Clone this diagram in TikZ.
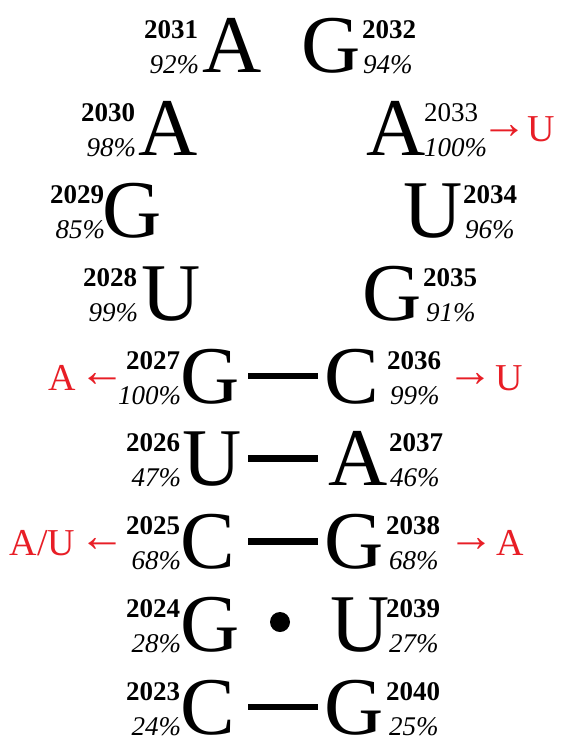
\documentclass[tikz,border=0pt]{standalone}
\usepackage{fontspec}
\setmainfont{Liberation Serif}
\definecolor{mutred}{RGB}{232,30,38}
\tikzset{
  bnode/.style={inner sep=0pt, outer sep=0pt},
  nt/.style={bnode, anchor=base, font=\fontsize{82}{82}\selectfont},
  num/.style={bnode, font=\bfseries\fontsize{27}{27}\selectfont},
  numr/.style={bnode, font=\fontsize{27}{27}\selectfont},
  pct/.style={bnode, font=\itshape\fontsize{27}{27}\selectfont},
  mut/.style={bnode, anchor=base, text=mutred, font=\fontsize{38}{38}\selectfont},
  mutarrow/.style={bnode, anchor=base, text=mutred, font=\fontsize{46}{46}\selectfont},
  pairbar/.style={line width=6.5pt},
}
\begin{document}
\begin{tikzpicture}[x=1pt,y=-1pt]
\fill[white] (0,0) rectangle (562,736);
\useasboundingbox (0,0) rectangle (562,736);
% row 1 (b=72)
\node[nt] (n2031) at (232.5,72) {A};
\node[nt] (n2032) at (331.5,72) {G};
\node[num, anchor=base east] (l2031) at (198,38) {2031};
\node[pct, anchor=base east] (p2031) at (199,73) {92\%};
\node[num, anchor=base west] (l2032) at (362,38) {2032};
\node[pct, anchor=base west] (p2032) at (363,73) {94\%};
% row 2 (b=155)
\node[nt] (n2030) at (168.5,155) {A};
\node[nt] (n2033) at (396.5,155) {A};
\node[num, anchor=base east] (l2030) at (135,121) {2030};
\node[pct, anchor=base east] (p2030) at (136,156) {98\%};
\node[numr, anchor=base west] (l2033) at (424,121) {2033};
\node[pct, anchor=base west] (p2033) at (424,156) {100\%};
\node[mutarrow] (a2033) at (504,138) {→};
\node[mut] (m2033) at (541,141) {U};
% row 3 (b=237.5)
\node[nt] (n2029) at (132,237.5) {G};
\node[nt] (n2034) at (433.5,237.5) {U};
\node[num, anchor=base east] (l2029) at (104,203.5) {2029};
\node[pct, anchor=base east] (p2029) at (105,238.5) {85\%};
\node[num, anchor=base west] (l2034) at (463,203.5) {2034};
\node[pct, anchor=base west] (p2034) at (465,238.5) {96\%};
% row 4 (b=320)
\node[nt] (n2028) at (171,320) {U};
\node[nt] (n2035) at (392,320) {G};
\node[num, anchor=base east] (l2028) at (137,286) {2028};
\node[pct, anchor=base east] (p2028) at (138,321) {99\%};
\node[num, anchor=base west] (l2035) at (423,286) {2035};
\node[pct, anchor=base west] (p2035) at (426,321) {91\%};
% row 5 (b=403)
\node[nt] (n2027) at (210.5,403) {G};
\node[nt] (n2036) at (352,403) {C};
\node[num, anchor=base east] (l2027) at (180,369) {2027};
\node[pct, anchor=base east] (p2027) at (181,404) {100\%};
\node[num, anchor=base west] (l2036) at (387,369) {2036};
\node[pct, anchor=base west] (p2036) at (390,404) {99\%};
\node[mut] (m2027) at (62,390) {A};
\node[mutarrow] (a2027) at (102,386) {←};
\node[mutarrow] (a2036) at (470,386) {→};
\node[mut] (m2036) at (509,390) {U};
\coordinate (b5l) at (248,376);
\coordinate (b5r) at (318,376);
\draw[pairbar] (b5l) -- (b5r);
% row 6 (b=485.5)
\node[nt] (n2026) at (212,485.5) {U};
\node[nt] (n2037) at (358,485.5) {A};
\node[num, anchor=base east] (l2026) at (180,451.5) {2026};
\node[pct, anchor=base east] (p2026) at (181,486.5) {47\%};
\node[num, anchor=base west] (l2037) at (389,451.5) {2037};
\node[pct, anchor=base west] (p2037) at (390,486.5) {46\%};
\coordinate (b6l) at (248,458.5);
\coordinate (b6r) at (318,458.5);
\draw[pairbar] (b6l) -- (b6r);
% row 7 (b=568.5)
\node[nt] (n2025) at (208,568.5) {C};
\node[nt] (n2038) at (354.5,568.5) {G};
\node[num, anchor=base east] (l2025) at (180,534.5) {2025};
\node[pct, anchor=base east] (p2025) at (181,569.5) {68\%};
\node[num, anchor=base west] (l2038) at (386,534.5) {2038};
\node[pct, anchor=base west] (p2038) at (389,569.5) {68\%};
\node[mut] (m2025) at (42.5,555.5) {A/U};
\node[mutarrow] (a2025) at (102.5,551.5) {←};
\node[mutarrow] (a2038) at (471,551.5) {→};
\node[mut] (m2038) at (510.5,555.5) {A};
\coordinate (b7l) at (248,541.5);
\coordinate (b7r) at (318,541.5);
\draw[pairbar] (b7l) -- (b7r);
% row 8 (b=651)
\node[nt] (n2024) at (210.5,651) {G};
\node[nt] (n2039) at (360,651) {U};
\node[num, anchor=base east] (l2024) at (180,617) {2024};
\node[pct, anchor=base east] (p2024) at (181,652) {28\%};
\node[num, anchor=base west] (l2039) at (386,617) {2039};
\node[pct, anchor=base west] (p2039) at (389,652) {27\%};
\coordinate (d8) at (280,622);
\fill (d8) circle[radius=10];
% row 9 (b=734)
\node[nt] (n2023) at (208,734) {C};
\node[nt] (n2040) at (354.5,734) {G};
\node[num, anchor=base east] (l2023) at (180,700) {2023};
\node[pct, anchor=base east] (p2023) at (181,735) {24\%};
\node[num, anchor=base west] (l2040) at (386,700) {2040};
\node[pct, anchor=base west] (p2040) at (389,735) {25\%};
\coordinate (b9l) at (248,707);
\coordinate (b9r) at (318,707);
\draw[pairbar] (b9l) -- (b9r);
\end{tikzpicture}
\end{document}
